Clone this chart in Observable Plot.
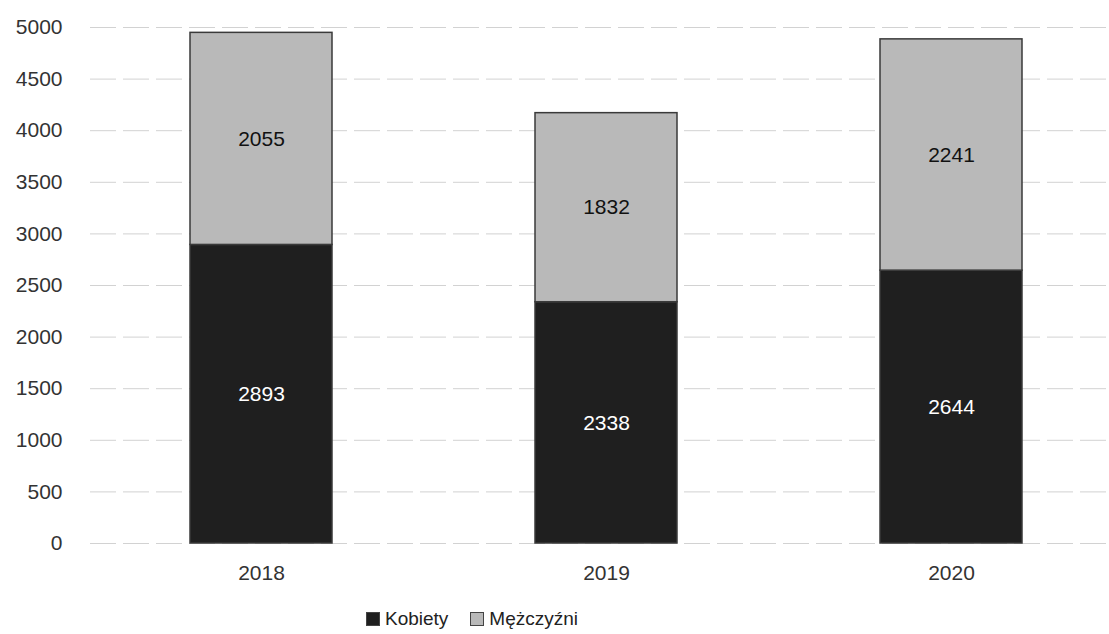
<!DOCTYPE html>
<html>
<head>
<meta charset="utf-8">
<script src="https://cdn.jsdelivr.net/npm/d3@7"></script>
<script src="https://cdn.jsdelivr.net/npm/@observablehq/plot@0.6"></script>
<style>
  html, body { margin: 0; padding: 0; background: #fff; }
  #chart { width: 1109px; }
  .legend { display: flex; justify-content: center; gap: 22px; font-family: "Liberation Sans", "Open Sans", sans-serif; font-size: 19px; color: #222; margin-top: 16px; padding-right: 165px; }
  .legend span.sw { display: inline-block; width: 12px; height: 12px; margin-right: 5px; vertical-align: -1px; border: 1px solid #444; }
</style>
</head>
<body>
<div id="chart"></div>
<script>
const years = ["2018", "2019", "2020"];
const series = ["Kobiety", "Mężczyźni"];
const kobiety = [2893, 2338, 2644];
const mezczyzni = [2055, 1832, 2241];
const colors = ["#1f1f1f", "#b9b9b9"];
const yTicks = [0, 500, 1000, 1500, 2000, 2500, 3000, 3500, 4000, 4500, 5000];

const data = [];
years.forEach((y, i) => {
  data.push({year: y, series: series[0], value: kobiety[i]});
  data.push({year: y, series: series[1], value: mezczyzni[i]});
});

const font = "'Liberation Sans', 'Open Sans', sans-serif";

const chart = Plot.plot({
  width: 1109,
  height: 592,
  marginLeft: 90,
  marginRight: 0,
  marginTop: 27,
  marginBottom: 49,
  style: {fontFamily: font, fontSize: "21px", color: "#333", background: "#fff"},
  x: {domain: years, range: [82, 1130], label: null, paddingInner: 0.588, paddingOuter: 0.3085, tickSize: 0, tickPadding: 22},
  y: {domain: [0, 5000], ticks: yTicks, label: null, tickSize: 0, tickPadding: 28, tickFormat: d => String(d)},
  color: {domain: series, range: colors},
  marks: [
    Plot.ruleY(yTicks, {stroke: "#d2d2d2", strokeWidth: 1, strokeDasharray: "26,7"}),
    Plot.barY(data, Plot.stackY({x: "year", y: "value", fill: "series", z: "series", stroke: "#3a3a3a", strokeWidth: 1.5})),
    Plot.text(data, Plot.stackY({
      x: "year", y: "value", z: "series",
      text: d => d.series === series[0] ? String(d.value) : "",
      fill: "white", fontSize: 21
    })),
    Plot.text(data, Plot.stackY({
      x: "year", y: "value", z: "series",
      text: d => d.series === series[1] ? String(d.value) : "",
      fill: "#111", fontSize: 21
    }))
  ]
});

document.getElementById("chart").appendChild(chart);

const legend = document.createElement("div");
legend.className = "legend";
series.forEach((s, i) => {
  const item = document.createElement("div");
  const sw = document.createElement("span");
  sw.className = "sw";
  sw.style.background = colors[i];
  item.appendChild(sw);
  item.appendChild(document.createTextNode(s));
  legend.appendChild(item);
});
document.getElementById("chart").appendChild(legend);
</script>
</body>
</html>
